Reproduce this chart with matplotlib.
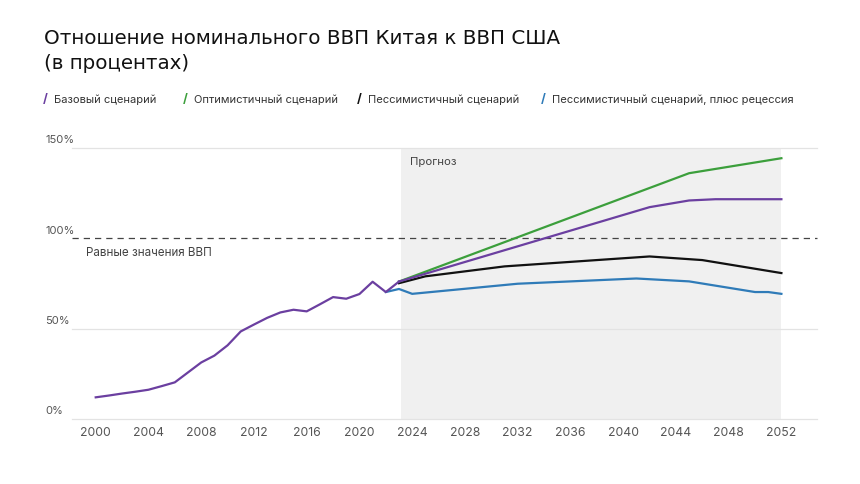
import matplotlib
matplotlib.use('Agg')
import matplotlib.pyplot as plt
import matplotlib.transforms as mtransforms

plt.rcParams['font.family'] = ['Inter', 'DejaVu Sans']

# Исторические данные (отношение ВВП Китая к ВВП США, %)
hist_years = list(range(2000, 2024))
hist_vals = [12.0, 13.0, 14.1, 15.1, 16.2, 18.2, 20.3, 25.8, 31.3, 35.1, 40.8, 48.5,
             52.3, 56.0, 59.0, 60.5, 59.6, 63.5, 67.5, 66.6, 69.2, 76.0, 70.3, 76.1]

# Сценарии прогноза
base_years = [2023, 2042, 2045, 2047, 2052]
base_vals = [76.1, 117.3, 121.0, 121.7, 121.7]

opt_years = [2023, 2045, 2052]
opt_vals = [76.1, 136.1, 144.4]

pess_years = [2023, 2025, 2031, 2042, 2046, 2052]
pess_vals = [75.2, 79.0, 84.5, 90.0, 88.0, 80.8]

rec_years = [2022, 2023, 2024, 2032, 2041, 2045, 2050, 2051, 2052]
rec_vals = [70.3, 72.0, 69.3, 74.9, 77.8, 76.2, 70.3, 70.3, 69.3]

x_ticks = list(range(2000, 2053, 4))
y_ticks = [0, 50, 100, 150]

legend_labels = ['Базовый сценарий', 'Оптимистичный сценарий',
                 'Пессимистичный сценарий', 'Пессимистичный сценарий, плюс рецессия']
colors = ['#6b3fa0', '#3c9f3c', '#111111', '#2f7bb8']

fig = plt.figure(figsize=(8.6, 4.84), dpi=100)
ax = fig.add_axes([0.0837, 0.1343, 0.8663, 0.5597])

# Область прогноза
ax.axvspan(2023.15, 2052, color='#f0f0f0', zorder=0, lw=0)

# Сетка
for v in y_ticks:
    if v == 100:
        ax.axhline(v, color='#444444', lw=0.9, ls=(0, (5, 4)), zorder=1, clip_on=False)
    else:
        ax.axhline(v, color='#e3e3e3', lw=0.9, zorder=1, clip_on=False)

ax.plot(rec_years, rec_vals, color=colors[3], lw=1.6, zorder=3)
ax.plot(pess_years, pess_vals, color=colors[2], lw=1.6, zorder=3)
ax.plot(opt_years, opt_vals, color=colors[1], lw=1.6, zorder=3)
ax.plot(base_years, base_vals, color=colors[0], lw=1.6, zorder=4)
ax.plot(hist_years, hist_vals, color=colors[0], lw=1.6, zorder=4)

ax.set_xlim(1998.2, 2054.7)
ax.set_ylim(0, 150)
ax.set_xticks(x_ticks)
ax.set_xticklabels([str(x) for x in x_ticks])
ax.set_yticks([])
ax.tick_params(axis='x', length=0, pad=6, labelsize=8.8, labelcolor='#555555')
for s in ax.spines.values():
    s.set_visible(False)
ax.patch.set_alpha(0)

# Подписи оси Y над линиями сетки
trans = mtransforms.blended_transform_factory(fig.transFigure, ax.transData)
for v in y_ticks:
    ax.text(45 / 860, v + 1.5, f'{v}%', transform=trans, fontsize=8,
            color='#555555', va='bottom', ha='left')

ax.text(1999.3, 95, 'Равные значения ВВП', fontsize=8.4, color='#444444', va='top')
ax.text(2023.8, 145, 'Прогноз', fontsize=8.2, color='#444444', va='top')

# Заголовок
fig.text(44 / 860, 1 - 38 / 484, 'Отношение номинального ВВП Китая к ВВП США',
         fontsize=14.3, color='#111111', va='center', ha='left', family='DejaVu Sans')
fig.text(44 / 860, 1 - 63 / 484, '(в процентах)',
         fontsize=14.3, color='#111111', va='center', ha='left', family='DejaVu Sans')

# Легенда
leg_x = [43, 183, 357, 541]
for x, lab, c in zip(leg_x, legend_labels, colors):
    fig.text(x / 860, 1 - 100 / 484, '/', color=c, fontsize=9, fontweight='bold',
             va='center', ha='left')
    fig.text((x + 11) / 860, 1 - 100 / 484, lab, color='#333333', fontsize=8,
             va='center', ha='left')

fig.savefig('out.png', dpi=100)
